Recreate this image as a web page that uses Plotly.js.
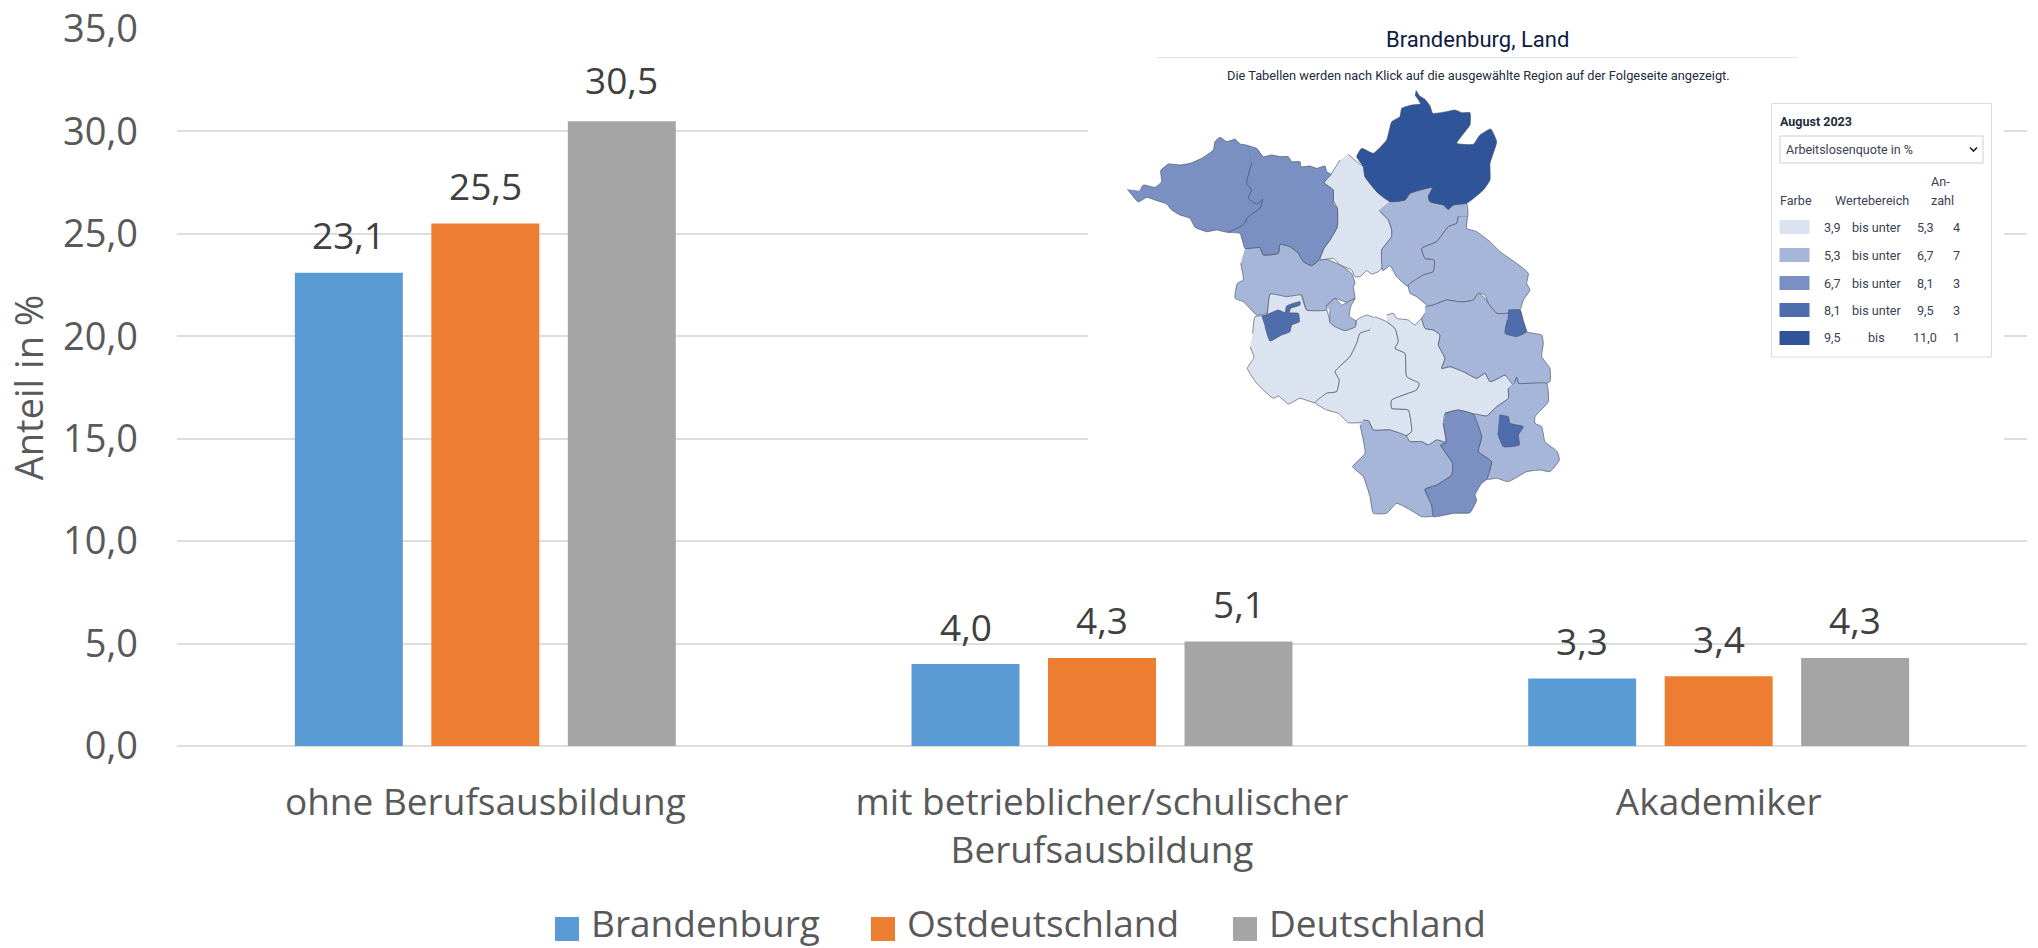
<!DOCTYPE html>
<html lang="de">
<head>
<meta charset="utf-8">
<title>Anteil in %</title>
<script src="https://cdn.plot.ly/plotly-3.0.1.min.js"></script>
<style>html,body{margin:0;padding:0;background:#fff;overflow:hidden}#chart{width:2038px;height:948px}</style>
</head>
<body>
<div id="chart"></div>
<script>
// ---------- bar chart data ----------
const categories = ['ohne Berufsausbildung', 'mit betrieblicher/schulischer<br>Berufsausbildung', 'Akademiker'];
const brandenburg = [23.1, 4.0, 3.3];
const ostdeutschland = [25.5, 4.3, 3.4];
const deutschland = [30.5, 5.1, 4.3];
const yTicks = [0, 5, 10, 15, 20, 25, 30, 35];

// ---------- inset legend table ----------
const classColors = ['#dbe2f0', '#a6b6d9', '#7a90c2', '#4f6dac', '#30549a'];
const classFrom = ['3,9', '5,3', '6,7', '8,1', '9,5'];
const classWord = ['bis unter', 'bis unter', 'bis unter', 'bis unter', 'bis'];
const classTo = ['5,3', '6,7', '8,1', '9,5', '11,0'];
const classCount = ['4', '7', '3', '3', '1'];

// ---------- inset map outlines (map units), [x, y] ----------
const prignitz = [[82,568],[100,590],[115,606],[140,592],[165,600],[200,612],[215,630],[240,645],[270,655],[285,682],[320,695],[350,690],[385,697],[430,675],[445,650],[480,625],[488,598],[470,612],[445,595],[455,570],[440,550],[455,490],[445,437],[420,432],[405,418],[380,425],[360,412],[345,425],[340,450],[305,475],[270,490],[240,495],[205,492],[182,512],[185,545],[165,562],[130,555],[120,572]];
const ostprignitz = [[445,437],[470,445],[490,470],[515,465],[540,470],[565,470],[575,485],[600,485],[603,500],[630,498],[650,505],[675,498],[680,515],[693,523],[672,548],[700,570],[700,610],[712,625],[712,680],[705,695],[690,720],[672,745],[655,782],[635,797],[610,785],[595,760],[570,740],[540,733],[535,760],[490,765],[480,743],[435,745],[420,700],[385,697],[430,675],[445,650],[480,625],[488,598],[470,612],[445,595],[455,570],[440,550],[455,490]];
const oberhavel = [[745,463],[770,485],[790,500],[795,530],[835,580],[870,605],[840,632],[865,660],[875,690],[875,710],[845,750],[848,800],[835,815],[815,822],[800,812],[780,830],[765,830],[755,810],[720,795],[700,775],[660,780],[672,745],[690,720],[712,680],[712,625],[700,600],[700,570],[672,548],[693,523],[720,480]];
const uckermark = [[948,271],[958,287],[975,298],[990,318],[998,340],[1040,335],[1065,330],[1085,338],[1110,338],[1110,375],[1095,395],[1070,430],[1120,433],[1140,405],[1172,387],[1190,425],[1170,490],[1170,540],[1150,570],[1100,610],[1060,615],[1045,628],[1030,615],[990,605],[985,590],[998,562],[960,570],[930,580],[915,600],[870,605],[835,580],[795,530],[790,500],[770,470],[785,445],[820,460],[860,420],[875,365],[900,350],[905,325],[935,315],[962,312],[945,285]];
const barnim = [[870,605],[915,600],[930,580],[960,570],[998,562],[985,590],[990,605],[1030,615],[1045,628],[1060,615],[1100,610],[1103,650],[1075,650],[1070,670],[1045,680],[1010,725],[965,745],[975,775],[1003,780],[1000,815],[970,825],[925,860],[890,830],[870,797],[848,812],[845,750],[875,710],[875,690],[865,660],[838,632]];
const maerkischOderland = [[1103,650],[1100,685],[1130,695],[1170,725],[1200,755],[1250,790],[1285,820],[1280,850],[1290,870],[1270,900],[1260,930],[1220,940],[1190,940],[1165,910],[1155,885],[1135,880],[1120,900],[1095,905],[1075,905],[1040,900],[1000,915],[985,918],[950,890],[930,880],[925,855],[970,825],[1000,815],[1003,780],[975,775],[965,745],[1010,725],[1045,680],[1070,670],[1075,650]];
const oderSpree = [[975,920],[985,918],[1000,915],[1040,900],[1075,905],[1095,905],[1120,900],[1135,880],[1155,895],[1165,910],[1190,940],[1220,940],[1260,930],[1280,995],[1325,1005],[1330,1030],[1325,1070],[1350,1105],[1350,1145],[1340,1150],[1290,1150],[1255,1150],[1250,1132],[1240,1155],[1215,1125],[1195,1135],[1170,1145],[1155,1120],[1130,1135],[1090,1115],[1050,1100],[1025,1105],[1035,1075],[1015,1035],[1020,1005],[1000,990],[975,985],[965,955],[975,940]];
const frankfurt = [[1225,930],[1260,930],[1268,960],[1280,995],[1250,1010],[1215,1000],[1222,960]];
const dahmeSpreewald = [[860,945],[880,940],[890,955],[925,960],[945,975],[965,955],[975,985],[1000,990],[1020,1005],[1015,1035],[1035,1075],[1025,1105],[1050,1100],[1090,1115],[1130,1135],[1155,1120],[1170,1145],[1195,1135],[1215,1125],[1243,1150],[1225,1165],[1225,1195],[1190,1220],[1160,1248],[1120,1242],[1075,1230],[1035,1240],[1030,1270],[1038,1328],[1010,1320],[985,1335],[965,1325],[930,1325],[918,1310],[935,1295],[925,1230],[875,1225],[875,1200],[950,1170],[958,1150],[920,1130],[915,1060],[885,1045],[895,1025],[885,985],[860,965]];
const teltowFlaeming = [[825,950],[860,965],[885,985],[895,1025],[885,1045],[915,1060],[920,1130],[958,1150],[950,1170],[875,1200],[875,1225],[925,1230],[935,1295],[918,1307],[870,1290],[820,1290],[805,1262],[780,1268],[745,1268],[715,1240],[680,1230],[645,1208],[680,1180],[710,1175],[718,1140],[705,1115],[750,1070],[770,1030],[780,1000],[810,990]];
const potsdamMittelmark = [[450,1040],[462,1072],[442,1105],[470,1150],[520,1195],[535,1188],[565,1212],[600,1195],[645,1208],[680,1180],[710,1175],[718,1140],[705,1115],[750,1070],[770,1030],[780,1000],[810,990],[825,955],[800,945],[770,960],[765,980],[735,990],[700,975],[690,965],[680,930],[620,930],[600,880],[510,882],[505,910],[500,945],[465,950],[458,1000]];
const havelland = [[435,745],[480,743],[490,765],[535,760],[540,733],[570,740],[595,760],[610,785],[635,797],[655,782],[680,778],[720,795],[755,820],[765,850],[760,860],[765,895],[750,910],[720,900],[705,895],[680,915],[680,930],[620,930],[605,885],[560,890],[510,882],[500,940],[470,945],[440,915],[430,905],[405,895],[412,850],[430,840],[422,790]];
const potsdam = [[678,920],[705,895],[725,915],[745,905],[765,895],[752,920],[748,950],[767,962],[767,980],[735,992],[705,980],[690,968],[690,930]];
const brandenburgHavel = [[485,950],[510,940],[535,930],[555,938],[560,918],[600,905],[600,915],[572,925],[568,938],[595,940],[598,965],[575,975],[570,995],[545,1005],[510,1023],[495,980]];
const spreeNeisse = [[1243,1150],[1250,1132],[1255,1150],[1290,1150],[1340,1150],[1345,1205],[1305,1250],[1305,1270],[1325,1280],[1335,1325],[1372,1355],[1378,1380],[1350,1415],[1320,1410],[1280,1415],[1225,1445],[1190,1435],[1160,1438],[1175,1385],[1135,1355],[1145,1310],[1120,1242],[1160,1248],[1190,1220],[1225,1195],[1225,1165]];
const cottbus = [[1198,1245],[1225,1250],[1230,1270],[1270,1280],[1255,1305],[1258,1335],[1210,1340],[1193,1300]];
const oberspreewaldLausitz = [[1035,1240],[1075,1230],[1120,1242],[1145,1310],[1135,1355],[1175,1385],[1160,1438],[1145,1450],[1125,1485],[1130,1500],[1110,1538],[1060,1540],[1000,1550],[995,1515],[975,1468],[1010,1455],[1055,1425],[1058,1390],[1022,1335],[1038,1328],[1030,1270]];
const elbeElster = [[790,1260],[805,1262],[820,1290],[870,1290],[918,1307],[930,1325],[965,1325],[985,1335],[1010,1320],[1038,1328],[1022,1335],[1058,1390],[1055,1425],[1010,1455],[975,1468],[995,1515],[1000,1548],[965,1550],[945,1538],[890,1510],[860,1540],[820,1540],[810,1490],[790,1430],[758,1400],[795,1360],[780,1275]];
const regionClass = [
  [oberhavel, 0], [potsdamMittelmark, 0], [teltowFlaeming, 0], [dahmeSpreewald, 0],
  [havelland, 1], [potsdam, 1], [barnim, 1], [maerkischOderland, 1], [oderSpree, 1], [spreeNeisse, 1], [elbeElster, 1],
  [prignitz, 2], [ostprignitz, 2], [oberspreewaldLausitz, 2],
  [brandenburgHavel, 3], [frankfurt, 3], [cottbus, 3],
  [uckermark, 4]
];

// ---------- layout geometry ----------
const W = 2038, H = 948, L = 177, R = 2027, T = 29, B = 746;
const px = x => (x - L) / (R - L);
const py = y => (B - y) / (B - T);
const catX = x => px(x) * categories.length - 0.5;
const mapX0 = 1100, mapY0 = 30, mapW = 480, mapY1 = 540;

const BAR_FONT = 'Open Sans, sans-serif';
const UI_FONT = 'Roboto, sans-serif';
const sans = 37;

function barTrace(name, values, color) {
  return {
    type: 'bar', name, x: categories, y: values, xaxis: 'x', yaxis: 'y',
    marker: { color, line: { width: 0 } }, hoverinfo: 'skip'
  };
}
const barSeries = [brandenburg, ostdeutschland, deutschland];
const traces = [
  barTrace('Brandenburg', brandenburg, '#5b9bd5'),
  barTrace('Ostdeutschland', ostdeutschland, '#ed7d31'),
  barTrace('Deutschland', deutschland, '#a5a5a5')
];
regionClass.forEach(([pts, cls]) => {
  traces.push({
    type: 'scatter', mode: 'lines', x: pts.map(p => p[0]), y: pts.map(p => p[1]),
    xaxis: 'x2', yaxis: 'y2', fill: 'toself', fillcolor: classColors[cls],
    line: { color: 'rgba(70,80,100,0.65)', width: 1, shape: 'spline', smoothing: 0.4 },
    showlegend: false, hoverinfo: 'skip'
  });
});

const shapes = [
  // picture background pasted over the gridlines
  { type: 'rect', layer: 'between', xref: 'x', yref: 'y', x0: catX(1088), x1: catX(2004), y0: 10.4, y1: 36, fillcolor: '#fff', line: { width: 0 } },
  { type: 'line', xref: 'paper', yref: 'paper', x0: px(1157), x1: px(1798), y0: py(57.5), y1: py(57.5), line: { color: '#dfe6ee', width: 1 }, layer: 'above' },
  { type: 'rect', xref: 'paper', yref: 'paper', x0: px(1771.5), x1: px(1991.5), y0: py(103.5), y1: py(357), line: { color: '#dcdcdc', width: 1 }, fillcolor: '#fff', layer: 'above' },
  { type: 'rect', xref: 'paper', yref: 'paper', x0: px(1780), x1: px(1983), y0: py(136), y1: py(163), line: { color: '#cfcfcf', width: 1 }, fillcolor: '#fff', layer: 'above' },
  { type: 'path', xref: 'paper', yref: 'paper', path: `M ${px(1970)} ${py(147.5)} L ${px(1973.5)} ${py(151)} L ${px(1977)} ${py(147.5)}`, line: { color: '#222', width: 1.6 }, layer: 'above' }
];
const rowY = [227, 255, 283, 310, 338];
classColors.forEach((c, i) => shapes.push({
  type: 'rect', xref: 'paper', yref: 'paper', x0: px(1779.5), x1: px(1809.5), y0: py(rowY[i] - 7), y1: py(rowY[i] + 7),
  fillcolor: c, line: { width: 0 }, layer: 'above'
}));

function note(text, x, y, anchor, size, color, extra) {
  return Object.assign({
    text, x: px(x), y: py(y), xref: 'paper', yref: 'paper', xanchor: anchor, yanchor: 'middle', showarrow: false,
    font: { family: UI_FONT, size, color }
  }, extra || {});
}
const tc = '#3a4254';
const annotations = [
  note('Brandenburg, Land', 1477.5, 39, 'center', 22, '#0d1b3e'),
  note('Die Tabellen werden nach Klick auf die ausgewählte Region auf der Folgeseite angezeigt.', 1478, 75.5, 'center', 12.8, '#232b3d'),
  note('<b>August 2023</b>', 1778, 122, 'left', 12.5, '#222b3a'),
  note('Arbeitslosenquote in %', 1784, 149, 'left', 12.5, tc),
  note('An-', 1929, 181, 'left', 12.6, tc),
  note('Farbe', 1778, 200, 'left', 12.6, tc),
  note('Wertebereich', 1833, 200, 'left', 12.6, tc),
  note('zahl', 1929, 200, 'left', 12.6, tc)
];
classColors.forEach((c, i) => {
  annotations.push(note(classFrom[i], 1822, rowY[i], 'left', 12.6, tc));
  annotations.push(note(classWord[i], 1876, rowY[i], 'center', 12.6, tc));
  annotations.push(note(classTo[i], 1925, rowY[i], 'center', 12.6, tc));
  annotations.push(note(classCount[i], 1956, rowY[i], 'center', 12.6, tc));
});
// value labels above each bar
const barOffset = [-136.5, 0, 136.5];
const labelLift = [[38, 38, 38], [38, 38, 38], [42, 38, 38]];
barSeries.forEach((values, s) => values.forEach((v, c) => annotations.push({
  text: v.toFixed(1).replace('.', ','), x: categories[c], y: v, xref: 'x', yref: 'y',
  xanchor: 'center', yanchor: 'middle', xshift: barOffset[s], yshift: labelLift[s][c], showarrow: false,
  font: { family: BAR_FONT, size: sans, color: '#404040' }
})));

const layout = {
  width: W, height: H, autosize: false,
  margin: { l: L, r: W - R, t: T, b: H - B, pad: 0 },
  paper_bgcolor: '#fff', plot_bgcolor: '#fff',
  separators: ',.',
  barmode: 'group', bargap: 0.336, bargroupgap: 0.209,
  showlegend: true,
  legend: {
    orientation: 'h', xref: 'container', yref: 'container', x: 0.26, xanchor: 'left', y: (H - 928) / H, yanchor: 'middle',
    font: { family: BAR_FONT, size: sans, color: '#595959' }, entrywidth: 300, entrywidthmode: 'pixels',
    bgcolor: 'rgba(0,0,0,0)', traceorder: 'normal'
  },
  xaxis: {
    type: 'category', categoryorder: 'array', categoryarray: categories,
    domain: [0, 1], showgrid: false, zeroline: false, showline: false, ticks: '',
    tickfont: { family: BAR_FONT, size: sans, color: '#595959' }, ticklabelstandoff: 31, automargin: false
  },
  yaxis: {
    range: [0, 35], tickvals: yTicks, tickformat: '.1f', domain: [0, 1],
    showgrid: true, gridcolor: '#dedede', gridwidth: 2, zeroline: true, zerolinecolor: '#dedede', zerolinewidth: 2,
    showline: false, ticks: '', ticklabelstandoff: 38, automargin: false,
    tickfont: { family: BAR_FONT, size: 38, color: '#595959' },
    title: { text: 'Anteil in %', font: { family: BAR_FONT, size: 38, color: '#595959' }, standoff: 0 }
  },
  xaxis2: { domain: [px(mapX0), px(mapX0 + mapW)], range: [0, mapW * 3], anchor: 'y2', visible: false, fixedrange: true },
  yaxis2: { domain: [py(mapY1), py(mapY0)], range: [mapY1 * 3, mapY0 * 3], anchor: 'x2', visible: false, fixedrange: true },
  shapes, annotations
};

Plotly.newPlot('chart', traces, layout, { staticPlot: true, displayModeBar: false, responsive: false }).then(gd => {
  // Excel-style legend: big square swatches, entries at the reference spacing
  const textLeft = [591, 907, 1269], centreY = 922.5, swatchCentreY = 929;
  const scroll = gd.querySelector('.legend .scrollbox');
  if (scroll) scroll.removeAttribute('clip-path');
  gd.querySelectorAll('.legend .traces').forEach((item, i) => {
    const path = item.querySelector('.legendpoints path');
    const t = item.querySelector('text').getBoundingClientRect();
    const m = /translate\(([-\d.]+)[, ]+([-\d.]+)\)/.exec(item.getAttribute('transform'));
    const nx = +m[1] + textLeft[i] - t.left, ny = +m[2] + centreY - (t.top + t.bottom) / 2;
    item.setAttribute('transform', `translate(${nx},${ny})`);
    if (path) {
      path.setAttribute('transform', 'scale(2)');
      const s = path.getBoundingClientRect();
      const dx = textLeft[i] - 24 - (s.left + s.right) / 2, dy = swatchCentreY - (s.top + s.bottom) / 2;
      path.setAttribute('transform', `translate(${dx},${dy}) scale(2)`);
    }
  });
  // axis title sits a little closer to the page edge
  const yt = gd.querySelector('.ytitle');
  if (yt) yt.setAttribute('transform', 'translate(-7,0) ' + (yt.getAttribute('transform') || ''));
});
</script>
</body>
</html>
